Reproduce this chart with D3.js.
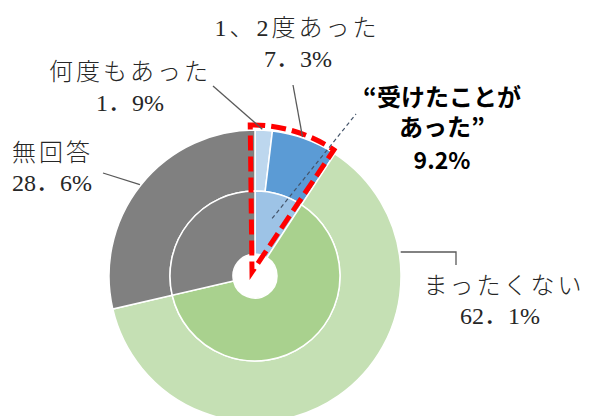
<!DOCTYPE html>
<html>
<head>
<meta charset="utf-8">
<script src="https://cdn.jsdelivr.net/npm/d3@7"></script>
<style>
body { margin: 0; background: #fff; }
</style>
</head>
<body>
<script>
var width = 591;
var height = 416;

var outerLabels = ["何度もあった", "1、2度あった", "まったくない", "無回答"];
var outerValues = [1.9, 7.3, 62.1, 28.6];
var outerColors = ["#bdd7ee", "#5b9bd5", "#c5e0b4", "#808080"];

var innerLabels = ["受けたことがあった", "まったくない", "無回答"];
var innerValues = [9.2, 62.1, 28.6];
var innerColors = ["#9dc3e6", "#a9d18e", "#808080"];

var cx = 255, cy = 276;
var r0 = 22, r1 = 85, r2 = 146;

var svg = d3.select("body").append("svg")
    .attr("width", width)
    .attr("height", height);

var pie = d3.pie().sort(null).value(function(d) { return d; });
var total = d3.sum(outerValues);
var angle = d3.scaleLinear().domain([0, total]).range([0, 2 * Math.PI]);

var g = svg.append("g").attr("transform", "translate(" + cx + "," + cy + ")");

var outerArc = d3.arc().innerRadius(r1).outerRadius(r2);
var innerArc = d3.arc().innerRadius(r0).outerRadius(r1);

var outerData = pie(outerValues);
var innerData = pie(innerValues);

g.selectAll(".outer")
    .data(outerData)
    .enter()
    .append("path")
    .attr("class", "outer")
    .attr("d", outerArc)
    .attr("fill", function(d, i) { return outerColors[i]; })
    .attr("stroke", "#fff")
    .attr("stroke-width", 1.5);

g.selectAll(".inner")
    .data(innerData)
    .enter()
    .append("path")
    .attr("class", "inner")
    .attr("d", innerArc)
    .attr("fill", function(d, i) { return innerColors[i]; })
    .attr("stroke", "#fff")
    .attr("stroke-width", 1.5);

function polar(r, a) {
  return [r * Math.sin(a), -r * Math.cos(a)];
}

// red dashed outline round "受けたことがあった"
var hl = innerData[0];
var hlArc = d3.arc().innerRadius(0).outerRadius(r2 + 1)
    .startAngle(hl.startAngle - 0.012).endAngle(hl.endAngle + 0.012);
g.append("path")
    .attr("transform", "translate(-3,-4)")
    .attr("d", hlArc())
    .attr("fill", "none")
    .attr("stroke", "#ff0000")
    .attr("stroke-width", 5)
    .attr("stroke-dasharray", "15,6")
    .attr("stroke-linejoin", "miter");

// dashed leader for the highlight
var hlMid = (hl.startAngle + hl.endAngle) / 2;
var hp = polar(60, hlMid);
g.append("line")
    .attr("x1", hp[0]).attr("y1", hp[1])
    .attr("x2", 356 - cx).attr("y2", 114 - cy)
    .attr("stroke", "#44546a")
    .attr("stroke-width", 1.2)
    .attr("stroke-dasharray", "4,3");

// leader lines
var leaders = [
  { a: (outerData[0].startAngle + outerData[0].endAngle) / 2 - 0.01, pts: [[213, 86]] },
  { a: (outerData[1].startAngle + outerData[1].endAngle) / 2 - 0.02, pts: [[293, 85]] },
  { a: angle(9.2 + 62.1 * 0.22), pts: [[456, 252], [456, 265]] },
  { a: (outerData[3].startAngle + outerData[3].endAngle) / 2, pts: [[103, 173]] }
];
var line = d3.line();
leaders.forEach(function(l) {
  var p = polar(r2 + 1, l.a);
  var pts = [[p[0] + cx, p[1] + cy]];
  if (l.pts.length > 1) pts[0][1] = l.pts[0][1];
  l.pts.forEach(function(q) { pts.push(q); });
  svg.append("path")
      .attr("d", line(pts))
      .attr("fill", "none")
      .attr("stroke", "#595959")
      .attr("stroke-width", 1.3);
});

// labels
function pct(v) { return d3.format(".1f")(v).replace(".", "．") + "%"; }
var labels = [
  { t: outerLabels[1], x: 297, y: 36, anchor: "middle", cjk: true },
  { t: pct(outerValues[1]), x: 298, y: 67, anchor: "middle" },
  { t: outerLabels[0], x: 130, y: 80, anchor: "middle", cjk: true },
  { t: pct(outerValues[0]), x: 130, y: 111, anchor: "middle" },
  { t: outerLabels[3], x: 12, y: 161, anchor: "start", cjk: true },
  { t: pct(outerValues[3]), x: 12, y: 191, anchor: "start" },
  { t: outerLabels[2], x: 504, y: 294, anchor: "middle", cjk: true },
  { t: pct(outerValues[2]), x: 500, y: 324, anchor: "middle" }
];
svg.selectAll(".lbl")
    .data(labels)
    .enter()
    .append("text")
    .attr("class", "lbl")
    .attr("x", function(d) { return d.x; })
    .attr("y", function(d) { return d.y; })
    .attr("text-anchor", function(d) { return d.anchor; })
    .attr("font-family", "'Liberation Serif', 'DejaVu Serif', 'Noto Sans CJK JP'")
    .attr("font-weight", function(d) { return d.cjk ? 300 : 400; })
    .attr("font-size", 24)
    .attr("letter-spacing", function(d) { return d.cjk ? 3 : 0; })
    .attr("fill", "#262626")
    .text(function(d) { return d.t; });

// bold callout for the inner highlighted slice
var callout = svg.append("text")
    .attr("text-anchor", "middle")
    .attr("font-family", "'Noto Sans CJK JP', sans-serif")
    .attr("font-weight", 700)
    .attr("fill", "#000");
callout.append("tspan").attr("x", 442).attr("y", 106).attr("font-size", 24).text("“受けたことが");
callout.append("tspan").attr("x", 442).attr("y", 136).attr("font-size", 24).text("あった”");
callout.append("tspan").attr("x", 442).attr("y", 169).attr("font-size", 23)
    .text(d3.format(".1f")(innerValues[0]) + "%");
</script>
</body>
</html>
